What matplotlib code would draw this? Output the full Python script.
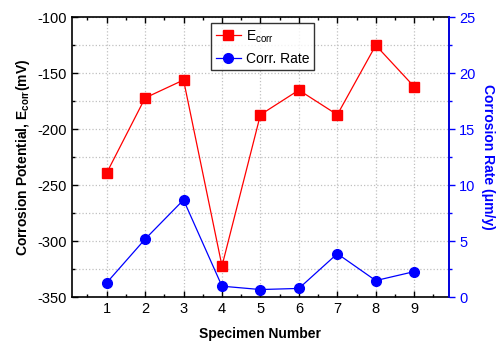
import matplotlib
matplotlib.use("Agg")
import matplotlib.pyplot as plt
from matplotlib.ticker import MultipleLocator

plt.rcParams['font.family'] = ['Liberation Sans', 'DejaVu Sans']
plt.rcParams['axes.unicode_minus'] = False

specimens = [1, 2, 3, 4, 5, 6, 7, 8, 9]
ecorr = [-239, -172, -156, -322, -187, -165, -187, -125, -162]
corr_rate = [1.3, 5.2, 8.7, 1.0, 0.7, 0.8, 3.9, 1.5, 2.3]

fig = plt.figure(figsize=(4.97, 3.45), dpi=100)
ax = fig.add_axes([0.145, 0.138, 0.758, 0.812])
ax2 = ax.twinx()

l1, = ax.plot(specimens, ecorr, color='red', marker='s', markersize=6.5, linewidth=0.9,
              label=r'E$_{\mathregular{corr}}$')
l2, = ax2.plot(specimens, corr_rate, color='blue', marker='o', markersize=7, linewidth=0.9,
               label='Corr. Rate')

ax.set_xlim(0.1, 9.9)
ax.set_ylim(-350, -100)
ax2.set_ylim(0, 25)

ax.xaxis.set_major_locator(MultipleLocator(1))
ax.xaxis.set_minor_locator(MultipleLocator(0.5))
ax.yaxis.set_major_locator(MultipleLocator(50))
ax.yaxis.set_minor_locator(MultipleLocator(25))
ax2.yaxis.set_major_locator(MultipleLocator(5))
ax2.yaxis.set_minor_locator(MultipleLocator(2.5))

ax.tick_params(axis='both', which='both', direction='in', top=True, labelsize=10.5, width=1)
ax.tick_params(which='major', length=4)
ax.tick_params(which='minor', length=2.5)
ax2.tick_params(axis='y', which='both', direction='out', colors='blue', labelsize=10.5, width=1)
ax2.tick_params(which='major', length=4)
ax2.tick_params(which='minor', length=2.5)

ax.grid(True, which='major', axis='x', color='#c0c0c0', linestyle=':', linewidth=0.9)
ax.grid(True, which='both', axis='y', color='#c0c0c0', linestyle=':', linewidth=0.9)
ax.set_axisbelow(True)

for s in ax.spines.values():
    s.set_linewidth(1.2)
ax2.spines['right'].set_color('blue')
ax2.spines['right'].set_linewidth(1.2)
for k in ['left', 'top', 'bottom']:
    ax2.spines[k].set_visible(False)

ax.set_xlabel('Specimen Number', fontsize=10, fontweight='bold', labelpad=8)
ax.set_ylabel(r'Corrosion Potential, E$_{\mathregular{corr}}$(mV)', fontsize=10, fontweight='bold')
ax2.set_ylabel('Corrosion Rate (\u03bcm/y)', fontsize=10, fontweight='bold', color='blue',
               rotation=270, labelpad=14)

leg = ax.legend(handles=[l1, l2], loc='upper left', bbox_to_anchor=(0.368, 0.978),
                fontsize=10, frameon=True, fancybox=False, edgecolor='black',
                handlelength=1.8, borderpad=0.35, labelspacing=0.5, handletextpad=0.4,
                borderaxespad=0)
leg.get_frame().set_linewidth(1.0)
leg.set_zorder(10)

fig.savefig('out.png', dpi=100)
